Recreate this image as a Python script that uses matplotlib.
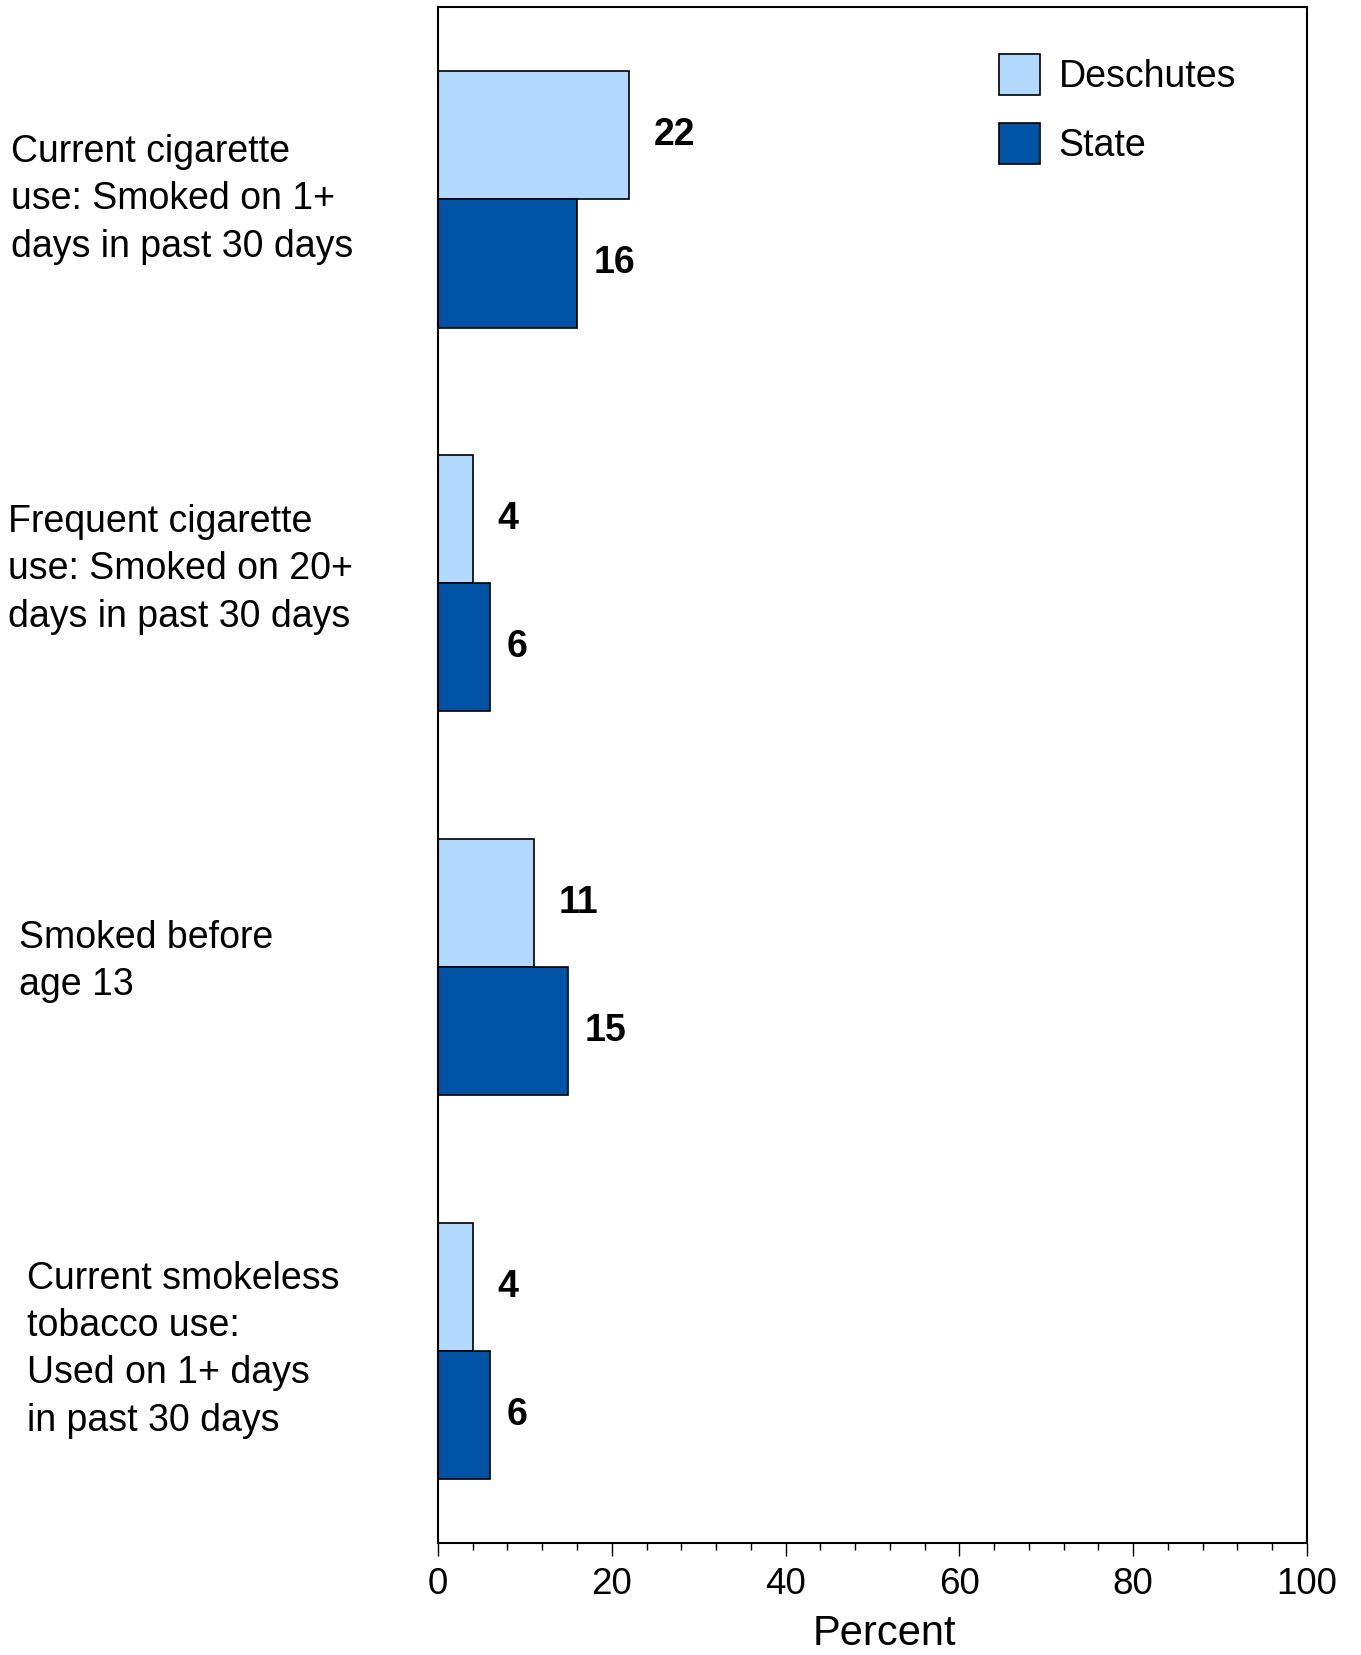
import numpy as np
import matplotlib
matplotlib.use("Agg")
import matplotlib.pyplot as plt
from matplotlib.ticker import MultipleLocator

plt.rcParams['font.family'] = ['Liberation Sans', 'DejaVu Sans']

# data
categories = [
    "Current cigarette\nuse: Smoked on 1+\ndays in past 30 days",
    "Frequent cigarette\nuse: Smoked on 20+\ndays in past 30 days",
    "Smoked before\nage 13",
    "Current smokeless\ntobacco use:\nUsed on 1+ days\nin past 30 days",
]
deschutes = [22, 4, 11, 4]
state = [16, 6, 15, 6]
series_names = ["Deschutes", "State"]

# layout for the category labels (figure x of left edge)
label_x = [0.008, 0.006, 0.014, 0.020]
label_dy = [0.0, -0.036, -0.014, -0.003]

light = "#b3d8fd"
dark = "#0052a5"

fig = plt.figure(figsize=(13.61, 16.55), dpi=100)
ax = fig.add_axes([0.3218, 0.0677, 0.6385, 0.9278])

y = np.arange(len(categories))
h = 0.334
b1 = ax.barh(y - h / 2, deschutes, height=h, color=light, edgecolor="black",
             linewidth=1.2, label=series_names[0])
b2 = ax.barh(y + h / 2, state, height=h, color=dark, edgecolor="black",
             linewidth=1.2, label=series_names[1])

for bars, vals, off in ((b1, deschutes, 18), (b2, state, 12)):
    for bar, v in zip(bars, vals):
        ax.annotate(f"{v}", (v, bar.get_y() + bar.get_height() / 2),
                    xytext=(off, 0), textcoords="offset points",
                    ha="left", va="center", fontsize=27, fontweight="bold")

ax.set_xlim(0, 100)
ax.set_ylim(3.5, -0.5)
ax.xaxis.set_major_locator(MultipleLocator(20))
ax.xaxis.set_minor_locator(MultipleLocator(4))
ax.tick_params(axis="x", which="major", direction="out", length=9, width=1,
               labelsize=26.5, pad=8)
ax.tick_params(axis="x", which="minor", direction="out", length=5, width=1)
ax.set_yticks([])
for s in ax.spines.values():
    s.set_linewidth(1.5)

ax.set_xlabel("Percent", fontsize=30, va="baseline")
ax.xaxis.set_label_coords(0.514, -0.0664)

# category labels to the left of the axes
trans = matplotlib.transforms.blended_transform_factory(fig.transFigure, ax.transData)
for i, (txt, lx) in enumerate(zip(categories, label_x)):
    ax.text(lx, i + label_dy[i], txt, transform=trans, ha="left", va="center",
            fontsize=27, linespacing=1.40)

ax.legend(loc="upper left", bbox_to_anchor=(0.6456, 0.970), frameon=False,
          fontsize=27, handlelength=1.093, handleheight=1.305,
          handletextpad=0.5, labelspacing=0.75, borderpad=0, borderaxespad=0)

fig.savefig("out.png", dpi=100)
